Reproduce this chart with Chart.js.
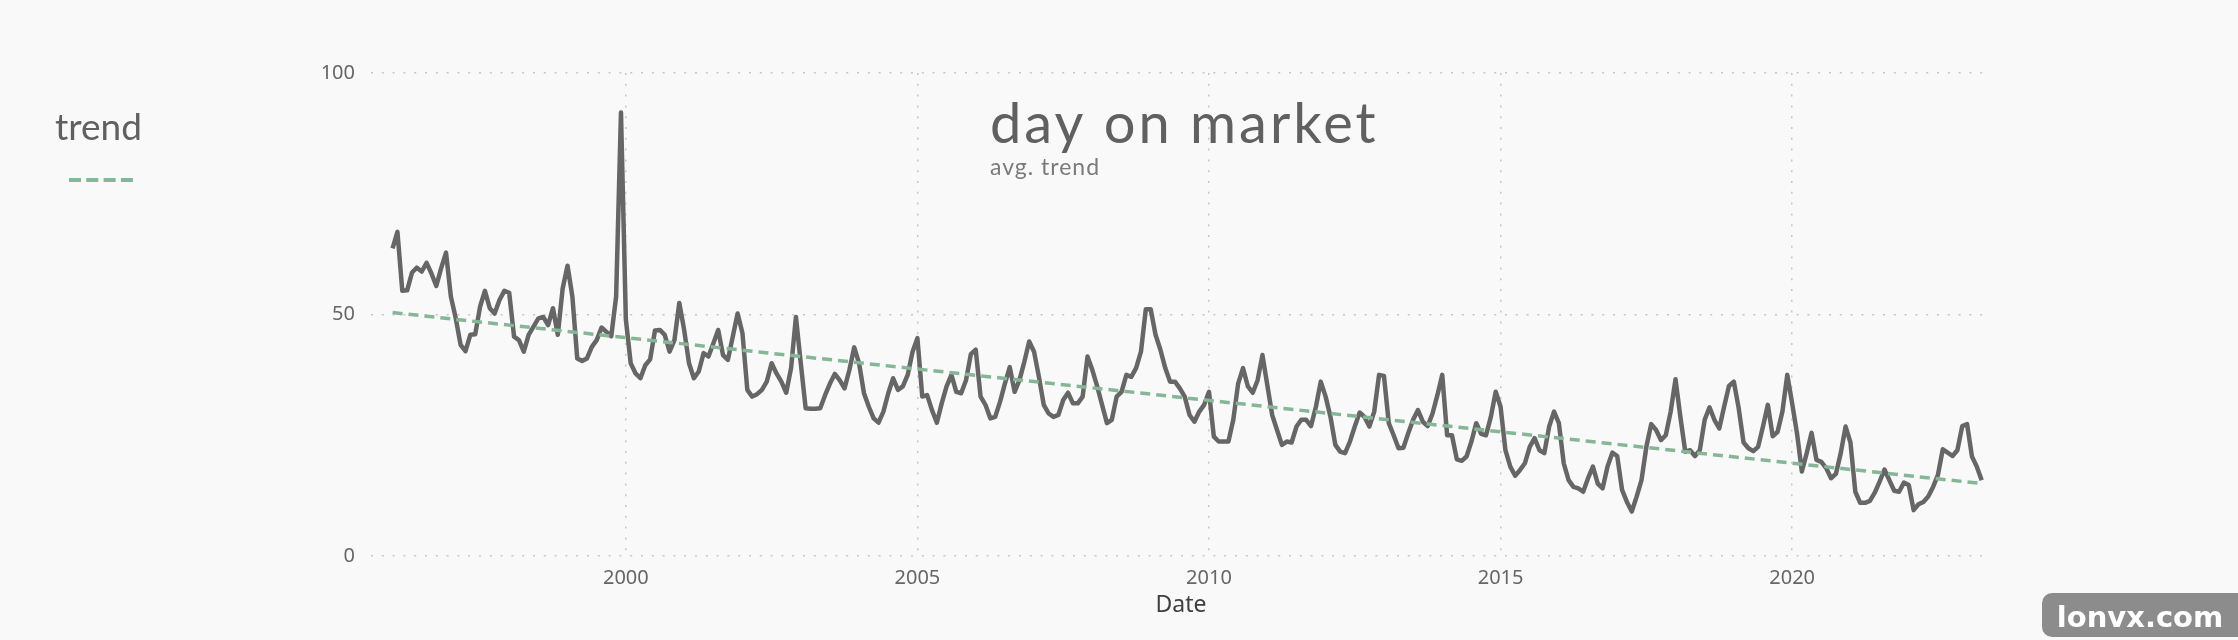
<!DOCTYPE html>
<html>
<head>
<meta charset="utf-8">
<title>day on market</title>
<script src="https://cdn.jsdelivr.net/npm/chart.js@4.4.1/dist/chart.umd.min.js"></script>
<style>
    html, body { margin: 0; padding: 0; background: #f9f9f9; }
    #wrap { width: 2238px; height: 640px; }
</style>
</head>
<body>
<div id="wrap"><canvas id="myLineChart" width="2238" height="640"></canvas></div>
<script>
// monthly values, Jan 1996 onwards
const startYear = 1996;
const domValues = [
    63.7, 67.1, 54.9, 55.0, 58.7, 59.7, 58.9, 60.7, 58.5, 55.9, 59.6, 62.8,
    53.7, 49.2, 43.7, 42.4, 45.8, 45.9, 51.6, 54.9, 51.3, 50.2, 53.0, 54.9,
    54.5, 45.4, 44.7, 42.3, 45.8, 47.5, 49.2, 49.5, 47.8, 51.3, 45.8, 55.4,
    60.1, 53.7, 40.9, 40.4, 40.9, 43.3, 44.7, 47.3, 46.4, 45.5, 53.7, 91.8,
    49.0, 39.9, 37.8, 36.8, 39.5, 40.7, 46.7, 46.8, 45.8, 42.3, 44.7, 52.4,
    46.8, 39.9, 36.8, 38.2, 42.0, 41.3, 44.0, 46.8, 41.6, 40.6, 45.4, 50.2,
    46.1, 34.4, 33.0, 33.5, 34.4, 36.1, 39.9, 37.8, 36.1, 33.8, 38.9, 49.5,
    39.9, 30.6, 30.5, 30.5, 30.6, 33.3, 35.7, 37.7, 36.4, 34.7, 38.5, 43.2,
    39.9, 33.7, 30.9, 28.5, 27.6, 29.9, 33.7, 36.8, 34.4, 35.1, 37.5, 42.3,
    45.1, 33.0, 33.3, 30.2, 27.6, 31.6, 35.1, 37.5, 34.0, 33.7, 36.4, 41.8,
    42.7, 33.0, 31.3, 28.5, 28.8, 31.9, 35.7, 39.1, 34.0, 36.4, 40.2, 44.4,
    42.3, 37.1, 31.3, 29.5, 28.8, 29.2, 32.3, 33.8, 31.6, 31.6, 33.0, 41.3,
    38.5, 35.1, 31.3, 27.5, 28.2, 33.0, 34.0, 37.5, 37.1, 38.9, 42.3, 51.1,
    51.1, 45.8, 42.7, 38.9, 36.1, 36.1, 34.7, 33.0, 29.2, 27.8, 29.9, 31.3,
    34.0, 24.7, 23.7, 23.7, 23.7, 28.2, 35.7, 38.9, 35.1, 33.8, 36.4, 41.6,
    35.4, 29.2, 26.1, 23.0, 23.7, 23.5, 26.8, 28.2, 28.2, 26.9, 30.9, 36.1,
    33.0, 28.8, 23.0, 21.6, 21.3, 23.7, 26.8, 29.7, 28.8, 26.8, 29.9, 37.5,
    37.3, 27.5, 25.0, 22.3, 22.4, 25.4, 28.2, 30.2, 27.8, 26.9, 29.5, 33.3,
    37.5, 25.0, 25.0, 20.0, 19.7, 20.6, 23.7, 27.5, 25.3, 25.0, 28.8, 34.0,
    30.9, 21.9, 18.5, 16.6, 17.8, 19.2, 22.6, 24.4, 21.9, 21.3, 26.8, 29.9,
    27.5, 19.2, 15.7, 14.3, 14.0, 13.3, 16.1, 18.5, 15.0, 14.0, 18.5, 21.4,
    20.7, 13.7, 11.2, 9.2, 12.3, 15.7, 22.6, 27.3, 26.1, 24.0, 25.0, 29.9,
    36.6, 28.8, 21.6, 21.9, 20.7, 21.9, 28.2, 30.8, 28.2, 26.4, 30.9, 35.2,
    36.1, 30.6, 23.5, 22.3, 21.7, 22.6, 26.8, 31.3, 24.8, 25.7, 29.9, 37.5,
    31.6, 25.4, 17.5, 21.3, 25.5, 19.9, 19.5, 18.2, 16.1, 17.0, 21.3, 26.8,
    23.5, 13.3, 11.0, 11.0, 11.4, 13.1, 15.4, 17.9, 15.7, 13.5, 13.3, 15.2,
    14.7, 9.5, 10.7, 11.2, 12.3, 14.3, 16.8, 22.1, 21.4, 20.7, 21.9, 26.9,
    27.3, 20.6, 18.5, 15.7
];
const trendYears = [1996, 2023.25];
const trendValues = [50.4, 15.0];
const yearTicks = [2000, 2005, 2010, 2015, 2020];
const valueTicks = [0, 50, 100];

const chartTitle = 'day on market';
const chartSubtitle = 'avg. trend';
const xTitle = 'Date';
const watermark = 'lonvx.com';

const lineColor = '#666666';
const trendColor = '#85b696';
const gridColor = '#c6c6c6';
const displayFont = '"Lato", "Noto Sans", sans-serif';

const linePoints = domValues.map((v, i) => ({ x: startYear + i / 12, y: v }));
const trendPoints = trendYears.map((y, i) => ({ x: y, y: trendValues[i] }));

const backgroundPlugin = {
    id: 'background',
    beforeDraw(chart) {
        const ctx = chart.ctx;
        ctx.save();
        ctx.fillStyle = '#f9f9f9';
        ctx.fillRect(0, 0, chart.width, chart.height);
        ctx.restore();
    }
};

const overlayPlugin = {
    id: 'overlay',
    afterDraw(chart) {
        const ctx = chart.ctx;
        ctx.save();

        // title
        ctx.fillStyle = '#606060';
        ctx.textBaseline = 'alphabetic';
        ctx.textAlign = 'left';
        ctx.font = '56px ' + displayFont;
        ctx.letterSpacing = '3px';
        ctx.fillText(chartTitle, 990, 143);
        ctx.fillStyle = '#7a7a7a';
        ctx.font = '23px ' + displayFont;
        ctx.letterSpacing = '1px';
        ctx.fillText(chartSubtitle, 990, 175);

        // legend
        const trend = chart.data.datasets[0];
        ctx.fillStyle = '#606060';
        ctx.font = '37px ' + displayFont;
        ctx.letterSpacing = '0px';
        ctx.fillText(trend.label, 55, 140);
        ctx.strokeStyle = trend.borderColor;
        ctx.lineWidth = 4;
        ctx.setLineDash([12, 5.3]);
        ctx.beginPath();
        ctx.moveTo(69, 180);
        ctx.lineTo(133, 180);
        ctx.stroke();
        ctx.setLineDash([]);

        // watermark
        ctx.fillStyle = '#8c8c8c';
        ctx.beginPath();
        ctx.roundRect(2042, 593, 210, 44, 10);
        ctx.fill();
        ctx.fillStyle = '#ffffff';
        ctx.font = 'bold 29px "DejaVu Sans", sans-serif';
        ctx.textAlign = 'center';
        ctx.fillText(watermark, 2140, 627);

        ctx.restore();
    }
};

const config = {
    type: 'line',
    data: {
        datasets: [{
            label: 'trend',
            data: trendPoints,
            borderColor: trendColor,
            borderWidth: 3.5,
            borderDash: [10, 6],
            pointRadius: 0,
            order: 0
        }, {
            label: 'day on market',
            data: linePoints,
            borderColor: lineColor,
            borderWidth: 4.5,
            borderJoinStyle: 'round',
            pointRadius: 0,
            tension: 0,
            order: 1
        }]
    },
    options: {
        responsive: false,
        animation: false,
        devicePixelRatio: 1,
        clip: false,
        layout: { padding: { top: 73, right: 247, left: 0, bottom: 0 } },
        plugins: {
            legend: { display: false },
            title: { display: false },
            tooltip: { enabled: false }
        },
        scales: {
            x: {
                type: 'linear',
                min: 1995.63,
                max: 2023.41,
                afterBuildTicks: s => { s.ticks = yearTicks.map(v => ({ value: v })); },
                afterFit: s => { s.height = 84; },
                grid: { color: gridColor, lineWidth: 1.5, drawTicks: false },
                border: { display: false, dash: [2, 8.8] },
                ticks: {
                    color: '#666666',
                    padding: 10,
                    font: { family: '"Noto Sans", sans-serif', size: 20 },
                    callback: v => String(v)
                },
                title: {
                    display: true,
                    text: xTitle,
                    color: '#404040',
                    padding: { top: 0, bottom: 21 },
                    font: { family: '"Noto Sans", sans-serif', size: 23 }
                }
            },
            y: {
                min: 0,
                max: 100,
                afterBuildTicks: s => { s.ticks = valueTicks.map(v => ({ value: v })); },
                afterFit: s => { s.width = 371; },
                grid: { color: gridColor, lineWidth: 1.5, drawTicks: false },
                border: { display: false, dash: [2, 8.8] },
                ticks: {
                    color: '#666666',
                    padding: 16,
                    font: { family: '"Noto Sans", sans-serif', size: 20 }
                }
            }
        }
    },
    plugins: [backgroundPlugin, overlayPlugin]
};

const myLineChart = new Chart(document.getElementById('myLineChart'), config);
</script>
</body>
</html>
